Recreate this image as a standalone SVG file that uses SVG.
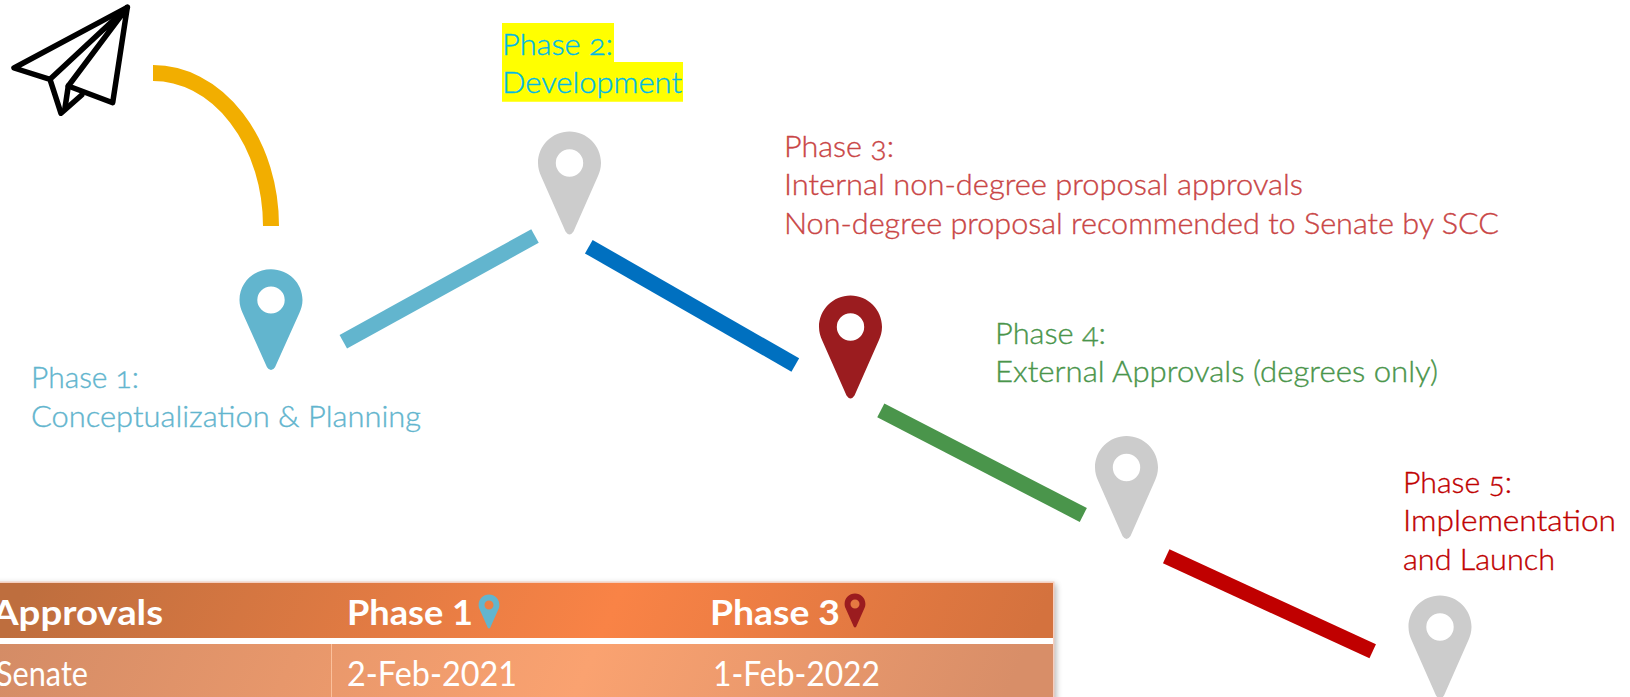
<svg xmlns="http://www.w3.org/2000/svg" width="1630" height="697" viewBox="0 0 1630 697">
<style>
.t{font-family:"Lato","Open Sans","Liberation Sans",sans-serif;font-size:28.5px;font-weight:300;font-variant-numeric:oldstyle-nums;stroke-width:.35}
.h{font-family:"Lato","Liberation Sans",sans-serif;font-size:35px;font-weight:700;fill:#fff}
.c{font-family:"Lato","Liberation Sans",sans-serif;font-size:35px;fill:#fff}
.l{fill:none;stroke-width:15.5}
.g{fill:#ccc}
</style>
<defs>
<path id="pin" fill-rule="evenodd" d="M0-31.5C17.4-31.5 31.5-17.4 31.5 0C31.5 5.500 30 9.500 28.500 13L4 68.500Q0 74.500-4 68.500L-28.500 13C-30 9.500-31.500 5.500-31.500 0C-31.500-17.400-17.400-31.500 0-31.500ZM0-13.700A13.700 13.700 0 1 0 0 13.700A13.700 13.700 0 1 0 0-13.700Z"/>
<linearGradient id="hg" gradientUnits="userSpaceOnUse" x1="100" y1="420" x2="960" y2="800">
<stop offset="0" stop-color="#BE6E3E"/><stop offset=".58" stop-color="#F98346"/><stop offset="1" stop-color="#D4723E"/>
</linearGradient>
<linearGradient id="rg" gradientUnits="userSpaceOnUse" x1="100" y1="420" x2="960" y2="800">
<stop offset="0" stop-color="#D48C66"/><stop offset=".58" stop-color="#FAA270"/><stop offset="1" stop-color="#D88E68"/>
</linearGradient>
<filter id="sh" x="-5%" y="-20%" width="110%" height="140%"><feGaussianBlur stdDeviation="3"/></filter>
</defs>

<g id="connectors">
<path class="l" stroke="#F2AE00" style="stroke-width:16" d="M153 73A118 153 0 0 1 271 226"/>
<path class="l" stroke="#62B5CE" d="M343.300 341.700L535 236"/>
<path class="l" stroke="#0070C0" d="M588.800 246.700L795.300 365"/>
<path class="l" stroke="#4A954B" d="M880.800 410.300L1083.300 515"/>
<path class="l" stroke="#C00000" d="M1166.200 556.200L1372.700 651.300"/>
</g>

<g id="plane" fill="none" stroke="#000" stroke-width="5.500" stroke-linejoin="round" stroke-linecap="round">
<path d="M127.300 7.300L14 68L50 79.300L61 113.300L81.700 95"/>
<path d="M127.300 7.300L112.700 102.700L68.300 86L127.300 7.300L50 79.300"/>
<path d="M68.300 86L65 108"/>
</g>

<g id="phase1">
<use href="#pin" transform="translate(271 300) scale(1 .98)" fill="#62B5CE"/>
<text class="t" fill="#62B5CE" stroke="#62B5CE"><tspan x="31" y="388" textLength="108" lengthAdjust="spacingAndGlyphs">Phase 1:</tspan><tspan x="31" y="427" textLength="390" lengthAdjust="spacingAndGlyphs">Conceptualization &amp; Planning</tspan></text>
</g>

<g id="phase2">
<path fill="#FF0" d="M502 23H614V62H683V101.700H502Z"/>
<use href="#pin" x="569.500" y="163" class="g"/>
<text class="t" fill="#00B8E6" stroke="#00B8E6"><tspan x="502" y="55" textLength="111" lengthAdjust="spacingAndGlyphs">Phase 2:</tspan><tspan x="502" y="93" textLength="180" lengthAdjust="spacingAndGlyphs">Development</tspan></text>
</g>

<g id="phase3">
<use href="#pin" x="850.500" y="327" fill="#9B1C1F"/>
<text class="t" fill="#C94545" stroke="#C94545"><tspan x="784" y="157" textLength="110" lengthAdjust="spacingAndGlyphs">Phase 3:</tspan><tspan x="784" y="195" textLength="519" lengthAdjust="spacingAndGlyphs">Internal non-degree proposal approvals</tspan><tspan x="784" y="234" textLength="715" lengthAdjust="spacingAndGlyphs">Non-degree proposal recommended to Senate by SCC</tspan></text>
</g>

<g id="phase4">
<use href="#pin" x="1126.500" y="467.500" class="g"/>
<text class="t" fill="#4A954B" stroke="#4A954B"><tspan x="995" y="344" textLength="111" lengthAdjust="spacingAndGlyphs">Phase 4:</tspan><tspan x="995" y="382" textLength="443" lengthAdjust="spacingAndGlyphs">External Approvals (degrees only)</tspan></text>
</g>

<g id="phase5">
<use href="#pin" x="1440" y="627" class="g"/>
<text class="t" fill="#C00000" stroke="#C00000"><tspan x="1403" y="493" textLength="109" lengthAdjust="spacingAndGlyphs">Phase 5:</tspan><tspan x="1403" y="531" textLength="213" lengthAdjust="spacingAndGlyphs">Implementation</tspan><tspan x="1403" y="570" textLength="152" lengthAdjust="spacingAndGlyphs">and Launch</tspan></text>
</g>

<g id="table">
<rect x="-10" y="584" width="1066" height="130" fill="#000" opacity=".3" filter="url(#sh)"/>
<rect x="-10" y="581.500" width="1064.500" height="130" fill="#F5CFC0"/>
<rect x="-10" y="583" width="1063" height="55" fill="url(#hg)"/>
<rect x="-10" y="638" width="1063" height="6" fill="#fff"/>
<rect x="-10" y="644" width="1063" height="60" fill="url(#rg)"/>
<rect x="331" y="644" width="1" height="60" fill="#FBC09B"/>
<text class="h" x="163" y="625" text-anchor="end" textLength="171" lengthAdjust="spacingAndGlyphs">Approvals</text>
<text class="h" x="347" y="625" textLength="126" lengthAdjust="spacingAndGlyphs">Phase 1</text>
<use href="#pin" transform="translate(489 605) scale(.33)" fill="#62B5CE"/>
<text class="h" x="710" y="625" textLength="130" lengthAdjust="spacingAndGlyphs">Phase 3</text>
<use href="#pin" transform="translate(855 604) scale(.33)" fill="#9B1C1F"/>
<text class="c" x="88" y="686" text-anchor="end" textLength="92" lengthAdjust="spacingAndGlyphs">Senate</text>
<text class="c" x="347" y="686" textLength="170" lengthAdjust="spacingAndGlyphs">2-Feb-2021</text>
<text class="c" x="713" y="686" textLength="167" lengthAdjust="spacingAndGlyphs">1-Feb-2022</text>
</g>
</svg>
